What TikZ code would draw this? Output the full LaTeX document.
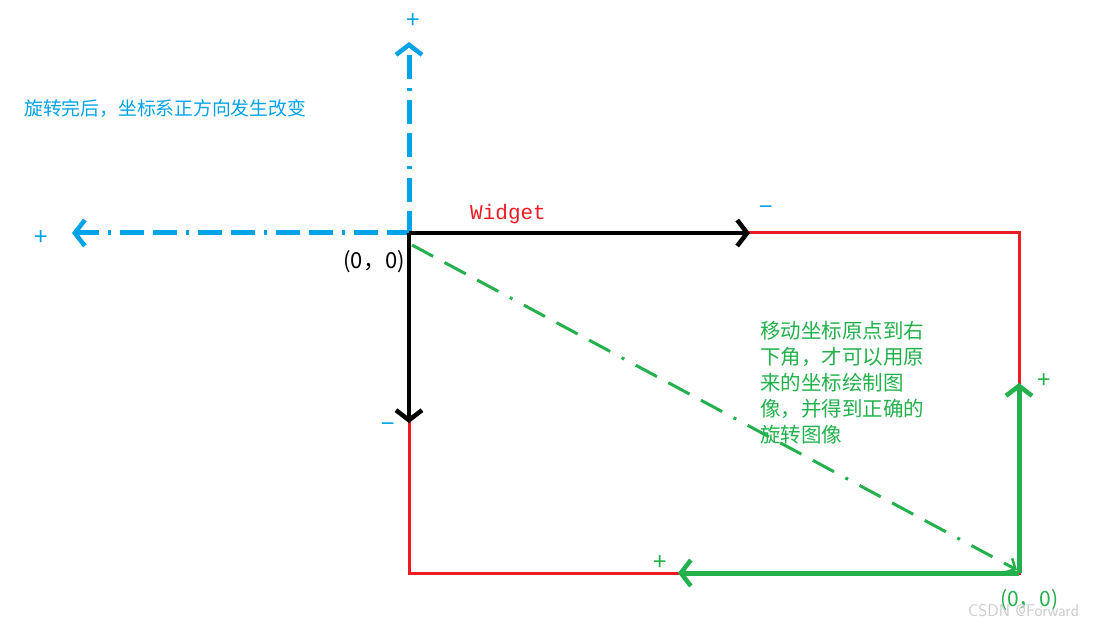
\documentclass[tikz,border=0pt]{standalone}
\usepackage{fontspec}
\setmainfont{Liberation Serif}
\setmonofont{Liberation Mono}
\newfontfamily\cjk{Noto Sans CJK SC}
\usetikzlibrary{arrows.meta}
\definecolor{pblue}{RGB}{0,162,232}
\definecolor{pred}{RGB}{237,28,36}
\definecolor{pgreen}{RGB}{34,177,76}
\tikzset{
  barb/.style={-{Straight Barb[length=10pt,width=26pt,line width=4.5pt]}},
  blueaxis/.style={pblue, line width=5pt, dash pattern=on 24pt off 9pt on 24pt off 9pt on 3pt off 9pt, barb},
  blackaxis/.style={black, line width=4pt, barb},
  greenaxis/.style={pgreen, line width=5pt, barb},
  rectline/.style={pred, line width=3pt},
  sign/.style={font=\cjk\fontsize{24}{24}\selectfont, inner sep=0pt},
}
\begin{document}
\begin{tikzpicture}[x=1pt,y=-1pt]
\useasboundingbox (0,0) rectangle (1096,628);
% coordinates
\coordinate (O) at (409,233);
\coordinate (TR) at (1019,233);
\coordinate (BR) at (1019,573);
\coordinate (BL) at (409,573);
\coordinate (bup) at (409,42);
\coordinate (bleft) at (72,233);
\coordinate (kright) at (750,233);
\coordinate (kdown) at (409,423);
\coordinate (gup) at (1019,383);
\coordinate (gleft) at (678,573);
\coordinate (dstart) at (412,245);
\coordinate (dend) at (1017,570);
% rectangle
\draw[rectline] (O) -- (TR) -- (BR) -- (BL) -- cycle;
% blue axes
\draw[blueaxis, shorten <=-2pt] (O) -- (bup);
\draw[blueaxis, shorten <=-2pt] (O) -- (bleft);
% black axes
\draw[blackaxis] (O) -- (kright);
\draw[blackaxis] (O) -- (kdown);
% green dashed diagonal
\draw[pgreen, line width=3pt, dash pattern=on 24pt off 13pt on 24pt off 13pt on 24pt off 13pt on 3pt off 13pt,
  -{Straight Barb[length=8pt,width=16pt,line width=2.5pt]}] (dstart) -- (dend);
% green axes
\draw[greenaxis] (BR) -- (gup);
\draw[greenaxis] (BR) -- (gleft);
% signs
\node[sign, pblue] (p1) at (413,21) {+};
\node[sign, pblue] (p2) at (41,238) {+};
\node[sign, pblue, font=\fontsize{16}{16}\selectfont] (m0) at (410,117) {-};
\node[sign, pblue] (m1) at (766,211) {−};
\node[sign, pblue] (m2) at (388,428) {−};
\node[sign, pgreen] (p3) at (1044,381) {+};
\node[sign, pgreen] (p4) at (660,563) {+};
% texts
\node[anchor=west, inner sep=0pt, pblue, font=\cjk\fontsize{18.8}{18.8}\selectfont] (t1) at (24,109) {旋转完后，坐标系正方向发生改变};
\node[anchor=west, inner sep=0pt, pred, font=\ttfamily\fontsize{21}{21}\selectfont] (w) at (470,214) {Widget};
\node[anchor=east, inner sep=0pt, black, font=\cjk\fontsize{22}{22}\selectfont] (o1) at (405,262) {(0，0)};
\node[anchor=north west, inner sep=0pt, align=left, pgreen, font=\cjk\fontsize{20.5}{26}\selectfont] (t2) at (760,321) {移动坐标原点到右\\下角，才可以用原\\来的坐标绘制图\\像，并得到正确的\\旋转图像};
\node[anchor=west, inner sep=0pt, pgreen, font=\cjk\fontsize{21}{21}\selectfont] (o2) at (1000,600) {(0，0)};
\node[anchor=west, inner sep=0pt, gray!40, font=\sffamily\fontsize{17}{17}\selectfont] (wm) at (968,611) {CSDN @Forward};
\end{tikzpicture}
\end{document}
